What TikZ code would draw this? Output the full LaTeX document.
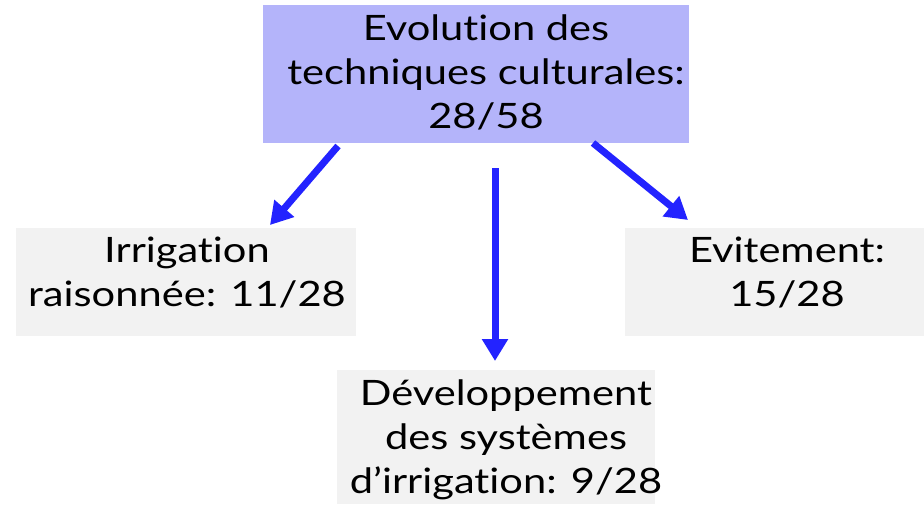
\documentclass[tikz,border=0pt]{standalone}
\usepackage{fontspec}
\setmainfont{Lato}[FakeStretch=1.19,Ligatures=NoCommon]
\usetikzlibrary{arrows.meta}
\definecolor{topfill}{HTML}{B4B4FA}
\definecolor{boxfill}{HTML}{F2F2F2}
\definecolor{arrowblue}{HTML}{2323FF}
\begin{document}
\begin{tikzpicture}[x=1pt,y=-1pt,
  boxshape/.style={draw=none,inner sep=0pt,anchor=north west},
  lbl/.style={align=center,inner sep=0pt,font=\fontsize{35}{44}\selectfont},
  conn/.style={arrowblue,line width=7pt,-{Triangle[length=22pt,width=25pt]}}]
\useasboundingbox (0,0) rectangle (924,504);
\node[boxshape,fill=topfill,minimum width=426pt,minimum height=138pt] (top) at (263,5) {};
\node[boxshape,fill=boxfill,minimum width=340pt,minimum height=108pt] (left) at (16,228) {};
\node[boxshape,fill=boxfill,minimum width=299pt,minimum height=108pt] (right) at (625,228) {};
\node[boxshape,fill=boxfill,minimum width=318pt,minimum height=134pt] (bottom) at (337,370) {};
\node[lbl] (toptxt) at (486,72) {Evolution des\\techniques culturales:\\28/58};
\node[lbl] (lefttxt) at (187,273) {Irrigation\\raisonnée: 11/28};
\node[lbl] (righttxt) at (787,273) {Evitement:\\15/28};
\node[lbl] (bottomtxt) at (506,440) {Développement\\des systèmes\\d’irrigation: 9/28};
\coordinate (a1s) at (338,146);
\coordinate (a1e) at (270,225);
\coordinate (a2s) at (495,168);
\coordinate (a2e) at (495,361);
\coordinate (a3s) at (593,143);
\coordinate (a3e) at (688,220);
\draw[conn] (a1s) -- (a1e);
\draw[conn] (a2s) -- (a2e);
\draw[conn] (a3s) -- (a3e);
\end{tikzpicture}
\end{document}
